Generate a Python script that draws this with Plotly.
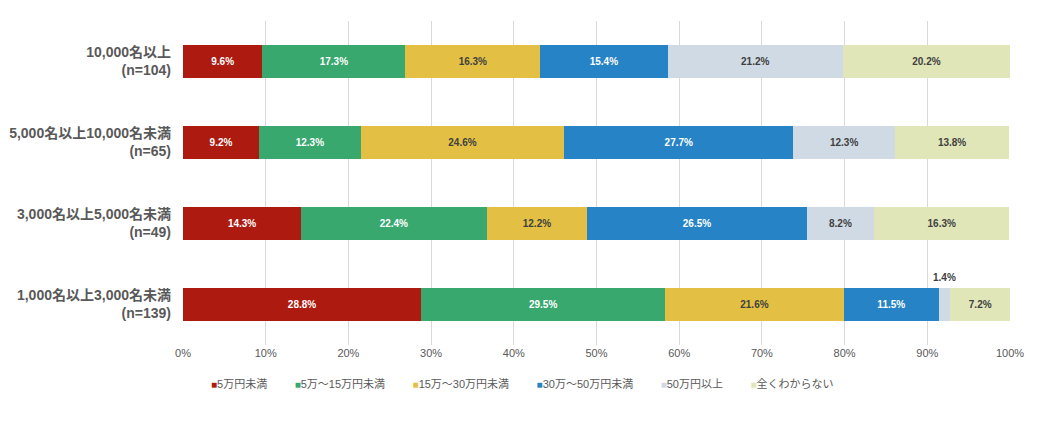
import plotly.graph_objects as go

# 従業員規模別の回答割合（%）
categories = ["10,000名以上<br>(n=104)", "5,000名以上10,000名未満<br>(n=65)",
              "3,000名以上5,000名未満<br>(n=49)", "1,000名以上3,000名未満<br>(n=139)"]
series_names = ["5万円未満", "5万～15万円未満", "15万～30万円未満", "30万～50万円未満", "50万円以上", "全くわからない"]

under_5 = [9.6, 9.2, 14.3, 28.8]
from_5_to_15 = [17.3, 12.3, 22.4, 29.5]
from_15_to_30 = [16.3, 24.6, 12.2, 21.6]
from_30_to_50 = [15.4, 27.7, 26.5, 11.5]
over_50 = [21.2, 12.3, 8.2, 1.4]
unknown = [20.2, 13.8, 16.3, 7.2]

series_values = [under_5, from_5_to_15, from_15_to_30, from_30_to_50, over_50, unknown]
colors = ["#AD1A10", "#38A86F", "#E3C044", "#2683C6", "#CFDAE5", "#E1E6B8"]
text_colors = ["white", "white", "#404040", "white", "#404040", "#404040"]

FONT = "Liberation Sans Narrow, Liberation Sans, Noto Sans CJK JP"
SMALL = 5  # これより小さい値はバーの上に表示

fig = go.Figure()
for name, vals, col, tcol in zip(series_names, series_values, colors, text_colors):
    labels = [f"{v:.1f}%" if v >= SMALL else "" for v in vals]
    fig.add_trace(go.Bar(
        y=categories, x=vals, name=name, orientation="h",
        marker=dict(color=col, line=dict(width=0)),
        text=labels, textposition="inside", insidetextanchor="middle",
        textangle=0, constraintext="none",
        textfont=dict(color=tcol, size=10, family=FONT, weight="bold"),
        hoverinfo="skip",
    ))

# 小さい値のラベルはバーの上に
for i, vals in enumerate(series_values):
    for j, v in enumerate(vals):
        if v < SMALL:
            left = sum(series_values[k][j] for k in range(i))
            fig.add_annotation(x=left + v / 2, y=categories[j], text=f"{v:.1f}%",
                               showarrow=False, yshift=27,
                               font=dict(color="#404040", size=10, family=FONT, weight="bold"))

# 凡例（小さい四角＋文字）
gap = "&nbsp;" * 9
legend_text = gap.join(
    f'<span style="color:{c};font-size:10px">■</span>{n}' for n, c in zip(series_names, colors)
)
fig.add_annotation(xref="paper", yref="paper", x=0.41, y=-0.118, xanchor="center", yanchor="middle",
                   text=legend_text, showarrow=False,
                   font=dict(size=11, color="#595959", family="Liberation Sans, Noto Sans CJK JP"))

# ページ既定の8px余白を見込んだマージン
fig.update_layout(
    barmode="stack",
    bargap=0.6,
    width=1040, height=434,
    margin=dict(l=175, r=38, t=13, b=97),
    plot_bgcolor="white", paper_bgcolor="white",
    font=dict(family=FONT, color="#595959"),
    uniformtext=dict(minsize=8, mode="show"),
    showlegend=False,
)
fig.update_xaxes(range=[0, 100], dtick=10, ticksuffix="%", showgrid=True,
                 gridcolor="#D9D9D9", gridwidth=1, zeroline=False,
                 tickfont=dict(size=11, color="#595959"), ticks="", fixedrange=True)
fig.update_yaxes(autorange="reversed", showgrid=False, ticks="", ticklabelstandoff=11, automargin=False,
                 tickfont=dict(size=14, color="#595959", family="Liberation Sans, Noto Sans CJK JP", weight="bold"))

fig.write_html("out.html")
